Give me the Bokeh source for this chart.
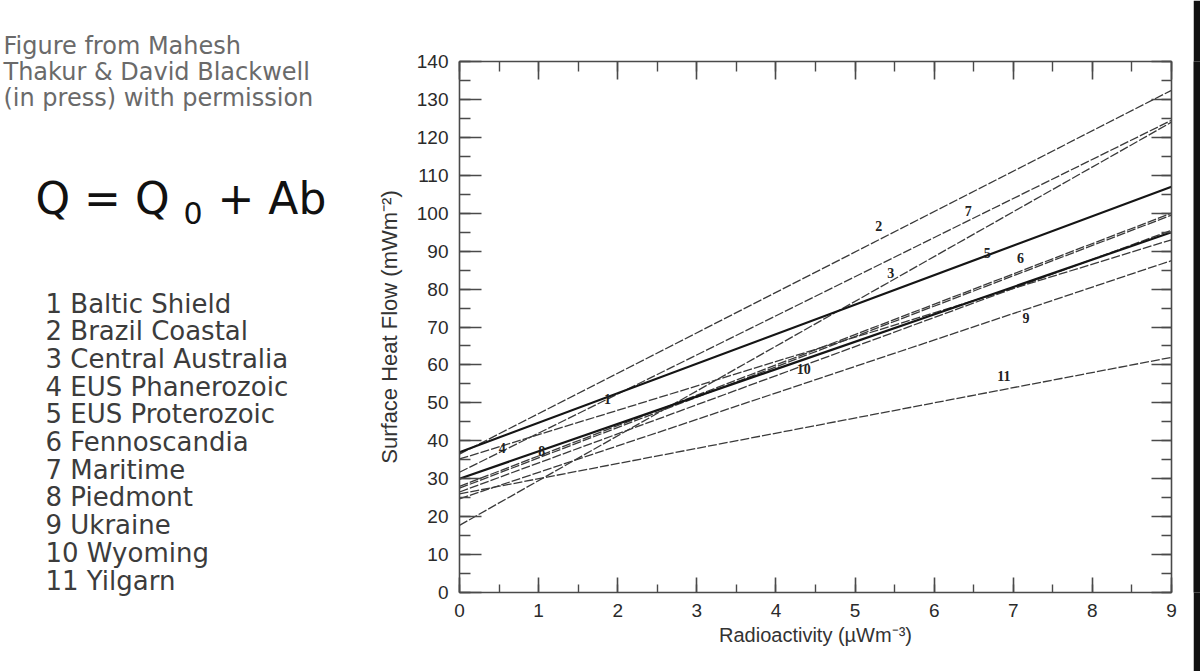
from bokeh.plotting import figure
from bokeh.layouts import row
from bokeh.models import Range1d, LinearAxis, SingleIntervalTicker, ColumnDataSource
from bokeh.embed import file_html
from bokeh.resources import INLINE
from bokeh.core.properties import value

# ---------------- data ----------------
regions = ["Baltic Shield", "Brazil Coastal", "Central Australia", "EUS Phanerozoic",
           "EUS Proterozoic", "Fennoscandia", "Maritime", "Piedmont", "Ukraine",
           "Wyoming", "Yilgarn"]
line_ids = ["1", "2", "3", "4", "5", "6", "7", "8", "9", "10", "11"]
a_ends = [0, 9]                       # radioactivity at the two ends of every line
q_at_0 = [37.0, 36.5, 17.7, 35.2, 28.0, 27.5, 31.7, 30.0, 24.7, 26.5, 26.0]
q_at_9 = [107.0, 132.4, 124.0, 93.0, 100.0, 99.5, 124.5, 95.0, 87.5, 95.5, 62.0]
bold = [True, False, False, False, False, False, False, True, False, False, False]
label_a = [1.87, 5.30, 5.45, 0.54, 6.67, 7.09, 6.43, 1.04, 7.16, 4.35, 6.88]
label_q = [51.1, 96.7, 84.3, 38.0, 89.4, 88.1, 100.7, 37.4, 72.5, 59.0, 57.2]

credit_lines = ["Figure from Mahesh", "Thakur & David Blackwell", "(in press) with permission"]

H = 671
LEFT_W = 370                       # width of the text panel
BAND_W = 7                         # dark band at the right edge
FL, FR, FT, FB = 459, 1171, 61, 592     # frame edges on the page
MAIN_W = 1200 - LEFT_W - BAND_W

# ---------------- left text panel ----------------
left = figure(width=LEFT_W, height=H, output_backend="svg", toolbar_location=None,
              x_range=Range1d(0, LEFT_W), y_range=Range1d(H, 0),
              min_border=0, x_axis_location=None, y_axis_location=None)
left.grid.visible = False
left.outline_line_color = None
try:
    left.frame_align = False       # keep this panel's frame over its whole canvas
except Exception:
    pass
TXT_FONT = value("DejaVu Sans")

credit_src = ColumnDataSource(dict(x=[3] * len(credit_lines),
                                   y=[45 + 26 * k for k in range(len(credit_lines))],
                                   t=credit_lines))
left.text("x", "y", text="t", source=credit_src, text_font=TXT_FONT, text_font_size="24px",
          text_color="#6a6a6a", text_baseline="middle")

left.text(x=[35], y=[198], text=["Q = Q"], text_font=TXT_FONT, text_font_size="44px",
          text_color="#111111", text_baseline="middle")
left.text(x=[183], y=[212], text=["0"], text_font=TXT_FONT, text_font_size="30px",
          text_color="#111111", text_baseline="middle")
left.text(x=[217], y=[198], text=["+ Ab"], text_font=TXT_FONT, text_font_size="44px",
          text_color="#111111", text_baseline="middle")

legend_src = ColumnDataSource(dict(x=[45] * len(regions),
                                   y=[303 + 27.7 * k for k in range(len(regions))],
                                   t=[f"{line_ids[k]} {regions[k]}" for k in range(len(regions))]))
left.text("x", "y", text="t", source=legend_src, text_font=TXT_FONT, text_font_size="26px",
          text_color="#3c3c3c", text_baseline="middle")

# ---------------- main chart ----------------
p = figure(width=MAIN_W, height=H, output_backend="svg", toolbar_location=None,
           x_range=Range1d(0, 9), y_range=Range1d(0, 140),
           min_border_left=FL - LEFT_W, min_border_right=LEFT_W + MAIN_W - FR,
           min_border_top=FT, min_border_bottom=H - FB,
           x_axis_location=None, y_axis_location=None)
p.grid.visible = False
p.outline_line_color = None

AX_COL = "#4a4a4a"
TICK_FONT = "Liberation Sans"


def make_axis(kind, side, labelled):
    if kind == "x":
        t = SingleIntervalTicker(interval=1, num_minor_ticks=2)
    else:
        t = SingleIntervalTicker(interval=10, num_minor_ticks=2)
    ax = LinearAxis(ticker=t)
    ax.axis_line_color = AX_COL
    ax.axis_line_width = 1.6
    ax.major_tick_line_color = AX_COL
    ax.minor_tick_line_color = AX_COL
    ax.major_tick_line_width = 1.6
    ax.minor_tick_line_width = 1.4
    ax.major_tick_out = 0
    ax.minor_tick_out = 0
    if kind == "x":
        ax.major_tick_in = 15 if labelled else 18
        ax.minor_tick_in = 8 if labelled else 10
    else:
        ax.major_tick_in = 22 if labelled else 20
        ax.minor_tick_in = 11 if labelled else 10
    if labelled:
        ax.major_label_text_font = TICK_FONT
        ax.major_label_text_font_size = "19px"
        ax.major_label_text_color = "#2a2a2a"
        ax.major_label_standoff = 11
        ax.axis_label_text_font = TICK_FONT
        ax.axis_label_text_font_style = "normal"
        ax.axis_label_text_color = "#333333"
    else:
        vals = range(0, 10) if kind == "x" else range(0, 150, 10)
        ax.major_label_overrides = {v: "" for v in vals}
        ax.major_label_standoff = 0
    p.add_layout(ax, side)
    return ax


xb = make_axis("x", "below", True)
xb.axis_label = "Radioactivity (µWm⁻³)"
xb.axis_label_text_font_size = "20px"
xb.axis_label_standoff = 4
yl = make_axis("y", "left", True)
yl.axis_label = "Surface Heat Flow (mWm⁻²)"
yl.axis_label_text_font_size = "22px"
yl.axis_label_standoff = 12
make_axis("x", "above", False)
make_axis("y", "right", False)

thin = [i for i in range(len(regions)) if not bold[i]]
thick = [i for i in range(len(regions)) if bold[i]]
src_thin = ColumnDataSource(dict(xs=[a_ends for i in thin],
                                 ys=[[q_at_0[i], q_at_9[i]] for i in thin]))
src_thick = ColumnDataSource(dict(xs=[a_ends for i in thick],
                                  ys=[[q_at_0[i], q_at_9[i]] for i in thick]))
p.multi_line("xs", "ys", source=src_thin, line_color="#3a3a3a", line_width=1.3, line_dash="9 2")
p.multi_line("xs", "ys", source=src_thick, line_color="#151515", line_width=2.2)

lab_src = ColumnDataSource(dict(x=label_a, y=label_q, t=line_ids))
p.text("x", "y", text="t", source=lab_src, text_font=value("Liberation Serif"),
       text_font_size="14px", text_color="#222222", text_align="center",
       text_baseline="middle", text_font_style="bold")

# ---------------- dark band at the right edge ----------------
band = figure(width=BAND_W, height=H, output_backend="svg", toolbar_location=None,
              min_border=0, x_axis_location=None, y_axis_location=None)
band.grid.visible = False
band.outline_line_color = None
band.background_fill_color = "#111111"
band.border_fill_color = "#111111"

layout = row(left, p, band, spacing=0)
open("out.html", "w").write(file_html(layout, INLINE))
